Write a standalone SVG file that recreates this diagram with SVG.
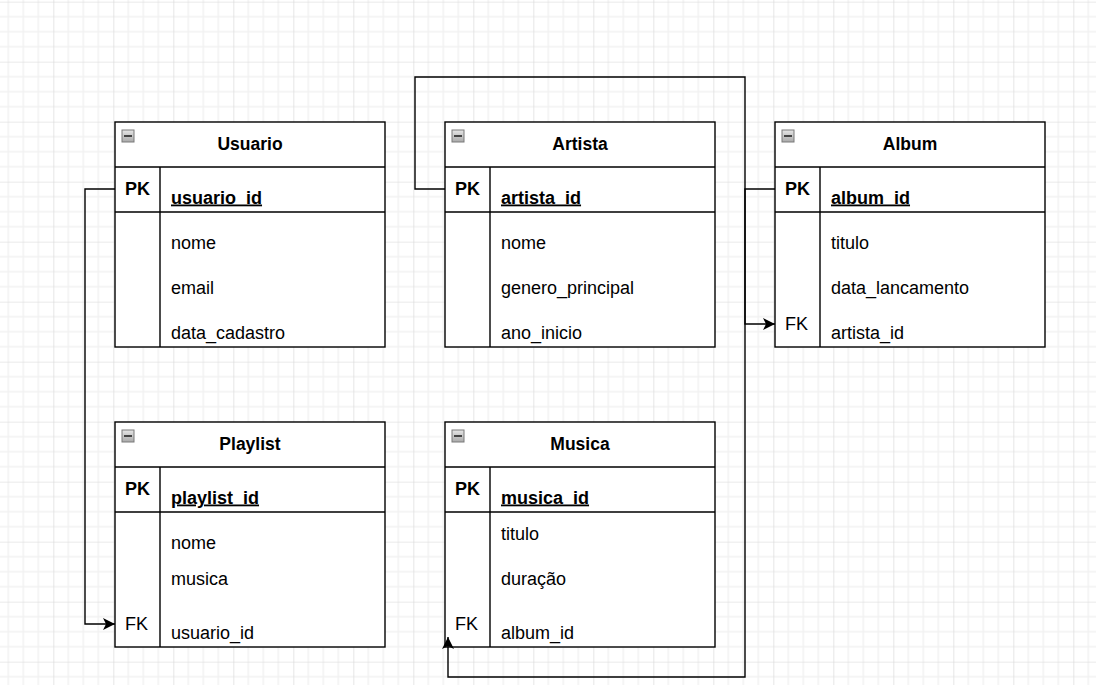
<svg xmlns="http://www.w3.org/2000/svg" width="1096" height="685" viewBox="0 0 1096 685">
  <defs>
    <pattern id="grid" patternUnits="userSpaceOnUse" x="53.33" y="1.67" width="60" height="60">
      <path d="M15,0V60M30,0V60M45,0V60M0,15H60M0,30H60M0,45H60" fill="none" stroke="#f2f2f2" stroke-width="1.5"/>
      <path d="M0,0V60M0,0H60" fill="none" stroke="#d6d6d6" stroke-width="1.2"/>
    </pattern>
    <linearGradient id="btn" x1="0" y1="0" x2="0" y2="1">
      <stop offset="0" stop-color="#e6e6e6"/>
      <stop offset="1" stop-color="#a9a9a9"/>
    </linearGradient>
    <marker id="arrow" markerUnits="userSpaceOnUse" viewBox="0 0 12 12" markerWidth="12" markerHeight="12" refX="12" refY="6" orient="auto">
      <path d="M0,0 L12,6 L0,12 L3,6 Z" fill="#000"/>
    </marker>
  </defs>
  <style>
    .box { fill: #fff; stroke: #000; stroke-width: 1.4; }
    .ln { fill: none; stroke: #000; stroke-width: 1.4; }
    .conn { fill: none; stroke: #000; stroke-width: 1.4; }
    .title { font-family: "Liberation Sans", Arial, sans-serif; font-size: 17.5px; font-weight: bold; text-anchor: middle; fill: #000; }
    .key { font-family: "Liberation Sans", Arial, sans-serif; font-size: 18px; font-weight: bold; fill: #000; }
    .pkf { font-family: "Liberation Sans", Arial, sans-serif; font-size: 18px; font-weight: bold; fill: #000; text-decoration: underline; }
    .fld { font-family: "Liberation Sans", Arial, sans-serif; font-size: 18px; fill: #000; }
    .btn { fill: url(#btn); stroke: #7a7a7a; stroke-width: 1; }
    .minus { stroke: #222; stroke-width: 1.6; }
  </style>
  <rect x="0" y="0" width="1096" height="685" fill="#fff"/>
  <rect x="0" y="0" width="1096" height="685" fill="url(#grid)"/>

  <g id="usuario">
    <rect class="box" x="115" y="122" width="270" height="225"/>
    <path class="ln" d="M115,167 H385 M115,212 H385 M160,167 V347"/>
    <rect class="btn" x="122" y="130" width="12" height="12"/>
    <line class="minus" x1="124" y1="136" x2="132" y2="136"/>
    <text class="title" x="250" y="149.5">Usuario</text>
    <text class="key" x="125" y="194.5">PK</text>
    <text class="pkf" x="171" y="203.5">usuario_id</text>
    <text class="fld" x="171" y="248.5">nome</text>
    <text class="fld" x="171" y="293.5">email</text>
    <text class="fld" x="171" y="338.5">data_cadastro</text>
  </g>

  <g id="artista">
    <rect class="box" x="445" y="122" width="270" height="225"/>
    <path class="ln" d="M445,167 H715 M445,212 H715 M490,167 V347"/>
    <rect class="btn" x="452" y="130" width="12" height="12"/>
    <line class="minus" x1="454" y1="136" x2="462" y2="136"/>
    <text class="title" x="580" y="149.5">Artista</text>
    <text class="key" x="455" y="194.5">PK</text>
    <text class="pkf" x="501" y="203.5">artista_id</text>
    <text class="fld" x="501" y="248.5">nome</text>
    <text class="fld" x="501" y="293.5">genero_principal</text>
    <text class="fld" x="501" y="338.5">ano_inicio</text>
  </g>

  <g id="album">
    <rect class="box" x="775" y="122" width="270" height="225"/>
    <path class="ln" d="M775,167 H1045 M775,212 H1045 M820,167 V347"/>
    <rect class="btn" x="782" y="130" width="12" height="12"/>
    <line class="minus" x1="784" y1="136" x2="792" y2="136"/>
    <text class="title" x="910" y="149.5">Album</text>
    <text class="key" x="785" y="194.5">PK</text>
    <text class="pkf" x="831" y="203.5">album_id</text>
    <text class="fld" x="831" y="248.5">titulo</text>
    <text class="fld" x="831" y="293.5">data_lancamento</text>
    <text class="fld" x="785" y="329.5">FK</text>
    <text class="fld" x="831" y="338.5">artista_id</text>
  </g>

  <g id="playlist">
    <rect class="box" x="115" y="422" width="270" height="225"/>
    <path class="ln" d="M115,467 H385 M115,512 H385 M160,467 V647"/>
    <rect class="btn" x="122" y="430" width="12" height="12"/>
    <line class="minus" x1="124" y1="436" x2="132" y2="436"/>
    <text class="title" x="250" y="449.5">Playlist</text>
    <text class="key" x="125" y="494.5">PK</text>
    <text class="pkf" x="171" y="503.5">playlist_id</text>
    <text class="fld" x="171" y="548.5">nome</text>
    <text class="fld" x="171" y="584.5">musica</text>
    <text class="fld" x="125" y="629.5">FK</text>
    <text class="fld" x="171" y="638.5">usuario_id</text>
  </g>

  <g id="musica">
    <rect class="box" x="445" y="422" width="270" height="225"/>
    <path class="ln" d="M445,467 H715 M445,512 H715 M490,467 V647"/>
    <rect class="btn" x="452" y="430" width="12" height="12"/>
    <line class="minus" x1="454" y1="436" x2="462" y2="436"/>
    <text class="title" x="580" y="449.5">Musica</text>
    <text class="key" x="455" y="494.5">PK</text>
    <text class="pkf" x="501" y="503.5">musica_id</text>
    <text class="fld" x="501" y="539.5">titulo</text>
    <text class="fld" x="501" y="584.5">duração</text>
    <text class="fld" x="455" y="629.5">FK</text>
    <text class="fld" x="501" y="638.5">album_id</text>
  </g>

  <g id="connectors">
    <path class="conn" d="M115,189 H85 V624 H115" marker-end="url(#arrow)"/>
    <path class="conn" d="M445,189 H415 V77 H745 V324 H775" marker-end="url(#arrow)"/>
    <path class="conn" d="M775,189 H745 V677 H448 V637" marker-end="url(#arrow)"/>
  </g>
</svg>
